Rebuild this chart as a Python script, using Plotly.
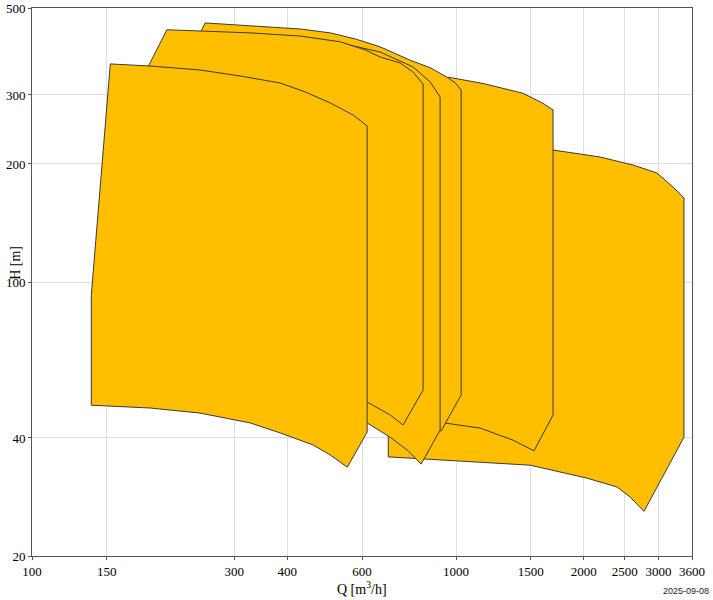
import math
import plotly.graph_objects as go

# ---- axis ticks ----
x_ticks = [100, 150, 300, 400, 600, 1000, 1500, 2000, 2500, 3000, 3600]
y_ticks = [20, 40, 100, 200, 300, 500]

# ---- pump range tiles: flow Q [m3/h], head H [m] ----
# tile 1 (front, leftmost)
q_1 = [138, 138, 153, 190, 249, 310, 385, 441, 505, 572, 617, 617, 554, 505, 460, 385, 327, 249, 190, 138]
h_1 = [48.5, 92.6, 360, 355.6, 347.4, 335.3, 321.8, 305.3, 286.2, 266.6, 250, 41.4, 33.7, 36.2, 38.4, 41.2, 43.7, 46.3, 47.7, 48.5]
# tile 2
q_2 = [182, 182, 208, 252, 327, 429, 533, 610, 662, 738, 792, 836, 836, 750, 699, 617, 478, 327, 182]
h_2 = [61.4, 331, 440, 437, 432, 424, 410, 391, 375, 362, 343, 320, 53.0, 43.2, 45.8, 49.4, 53.7, 57.9, 61.4]
# tile 3 (highest head)
q_3 = [248, 248, 256, 327, 429, 505, 578, 662, 779, 869, 952, 995, 1028, 1028, 922, 779, 617, 429, 248]
h_3 = [63.2, 427, 458, 451, 442, 432, 417, 398, 368, 352, 333, 322, 309, 51.5, 41.7, 43.9, 48.5, 57.9, 63.2]
# tile 4
q_4 = [219, 219, 224, 327, 429, 533, 662, 792, 869, 917, 917, 827, 771, 699, 617, 429, 327, 219]
h_4 = [59.6, 409.5, 431.8, 429.3, 421.7, 407.1, 386.1, 353.6, 323.7, 296.4, 41.9, 34.3, 37.1, 40.2, 43.7, 50.0, 54.6, 59.6]
# tile 5
q_5 = [937, 937, 963, 1158, 1438, 1603, 1693, 1693, 1527, 1362, 1139, 937]
h_5 = [43.7, 331.4, 332.8, 320.9, 303.0, 285.7, 274.6, 45.8, 37.1, 39.5, 42.4, 43.7]
# tile 6 (back, rightmost)
q_6 = [692, 692, 968, 1270, 1693, 2185, 2613, 2977, 3247, 3446, 3446, 2774, 2571, 2395, 2036, 1494, 1139, 854, 692]
h_6 = [35.8, 251.5, 237.1, 227.6, 217.1, 208.4, 198.8, 189.7, 174.7, 163.8, 40.2, 26.0, 28.3, 30.0, 31.6, 34.1, 34.7, 35.4, 35.8]

fill_colour = "#FFBF00"
edge_colour = "#3a3a3a"
serif = "Liberation Serif, DejaVu Serif, serif"

fig = go.Figure()
for q, h in [(q_6, h_6), (q_5, h_5), (q_3, h_3), (q_4, h_4), (q_2, h_2), (q_1, h_1)]:
    fig.add_trace(go.Scatter(
        x=q, y=h, mode="lines", fill="toself", fillcolor=fill_colour,
        line=dict(color=edge_colour, width=1), hoverinfo="skip", showlegend=False))

axis_common = dict(
    type="log", showgrid=True, gridcolor="#dedede", gridwidth=1,
    showline=True, linecolor="#555555", linewidth=1, mirror=True,
    ticks="outside", ticklen=3, tickcolor="#555555", automargin=False,
    tickfont=dict(family=serif, size=13, color="black"), zeroline=False,
)

fig.update_layout(
    width=713, height=600,
    margin=dict(l=32, r=21, t=8, b=44, autoexpand=False),
    paper_bgcolor="white", plot_bgcolor="white",
    showlegend=False, hovermode=False,
    xaxis=dict(axis_common, range=[2, math.log10(3600)], tickvals=x_ticks,
               ticktext=[str(v) for v in x_ticks]),
    yaxis=dict(axis_common, range=[math.log10(20), math.log10(500)], tickvals=y_ticks,
               ticktext=[str(v) for v in y_ticks]),
    annotations=[
        dict(text="Q [m<sup>3</sup>/h]", xref="paper", yref="paper", x=0.5, y=0,
             xanchor="center", yanchor="middle", yshift=-32, showarrow=False,
             font=dict(family=serif, size=14, color="black")),
        dict(text="H [m]", xref="paper", yref="paper", x=0, y=0.535,
             xanchor="center", yanchor="middle", xshift=-16, textangle=-90, showarrow=False,
             font=dict(family=serif, size=14, color="black")),
        dict(text="2025-09-08", xref="paper", yref="paper", x=1.0288, y=0,
             xanchor="right", yanchor="middle", yshift=-35, showarrow=False,
             font=dict(family="Liberation Sans, Arial, sans-serif", size=9, color="#222222")),
    ],
)

fig.write_html("out.html", config={"displayModeBar": False},
               post_script="document.body.style.margin='0';document.body.style.padding='0';")
